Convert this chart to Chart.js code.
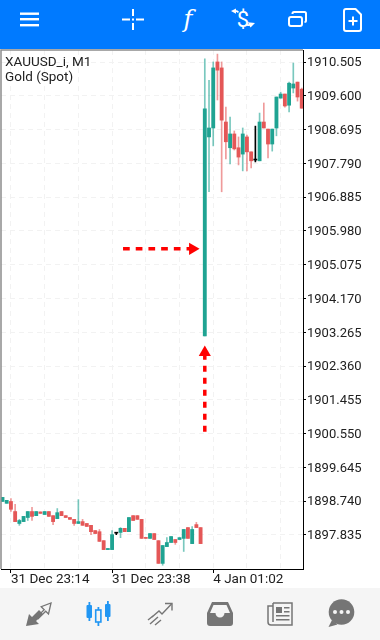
<!DOCTYPE html>
<html>
<head>
<meta charset="utf-8">
<title>XAUUSD_i, M1</title>
<script src="https://cdn.jsdelivr.net/npm/chart.js@4/dist/chart.umd.min.js"></script>
<style>
  html, body { margin: 0; padding: 0; background: #fff; width: 380px; height: 640px; overflow: hidden; }
  #chart { position: absolute; left: 0; top: 0; }
  .bar { position: absolute; left: 0; display: block; }
  #top { top: 0; }
  #bottom { top: 588px; }
</style>
</head>
<body>
<canvas id="chart" width="380" height="590"></canvas>

<svg id="top" class="bar" width="380" height="49" viewBox="0 0 380 49">
  <rect width="380" height="49" fill="#007aff"/>
  <g fill="#fff">
    <rect x="20" y="12.5" width="19" height="2.4"/>
    <rect x="20" y="18" width="19" height="2.4"/>
    <rect x="20" y="24" width="19" height="2.4"/>
    <rect x="122" y="18.5" width="8" height="2"/>
    <rect x="136" y="18.5" width="8" height="2"/>
    <rect x="132" y="9" width="2" height="7"/>
    <rect x="132" y="23" width="2" height="7"/>
    <rect x="132" y="18.5" width="2" height="2"/>
    <text x="188" y="27" font-family="DejaVu Serif" font-style="italic" font-size="24" text-anchor="middle">f</text>
    <text x="243" y="27" font-family="Roboto" font-size="22" text-anchor="middle">$</text>
    <path d="M231 11l5-2.500v1.800c1.500 0 2.500 .5 3 1.700l-1.500 1c-.4-.7-.8-.9-1.500-.9v1.700z"/>
    <path d="M255 23l-4.500 4.500-1-1.800c-1.500 .5-2.800 .2-3.700-.7l1.200-1.300c.6 .5 1.200 .6 1.800 .3l-1-1.700z"/>
  </g>
  <g fill="none" stroke="#fff" stroke-width="2">
    <rect x="289" y="17" width="13" height="9" rx="2"/>
    <path d="M292.500 14v-.500a1.500 1.500 0 0 1 1.500-1.500h10.500a1.500 1.500 0 0 1 1.500 1.500v7a1.500 1.500 0 0 1-1.500 1.500"/>
    <path d="M346 9h9.500l5.500 5.500v14.500a2 2 0 0 1-2 2h-13a2 2 0 0 1-2-2v-18a2 2 0 0 1 2-2z" stroke-linejoin="round"/>
    <path d="M353 16.500v9M348.500 21h9"/>
  </g>
</svg>

<svg id="bottom" class="bar" width="380" height="52" viewBox="0 588 380 52">
  <rect x="0" y="588" width="380" height="52" fill="#f5f5f5"/>
  <!-- trade -->
  <path d="M26 626l3-12 3 3 7-7 4 4-7 7 3 3z" fill="#757575"/>
  <path d="M51 603l-2.500 11-2.800-2.800-7.700 7.700-1.500-1.500 7.700-7.700-3-3z" fill="none" stroke="#757575" stroke-width="1.300"/>
  <!-- candles -->
  <g fill="#2196f3">
    <rect x="88.500" y="602" width="1.800" height="19"/>
    <rect x="86.500" y="605" width="5.500" height="13" rx="1"/>
    <rect x="107" y="601" width="1.800" height="20"/>
    <rect x="105" y="604" width="5.500" height="13" rx="1"/>
    <rect x="97.500" y="607" width="1.800" height="19"/>
  </g>
  <rect x="95.700" y="610" width="5.200" height="12" fill="#f5f5f5" stroke="#2196f3" stroke-width="1.600"/>
  <!-- trend -->
  <g fill="none" stroke="#757575" stroke-width="1.400">
    <path d="M152 617l7-6 3 3 9.500-10"/>
    <path d="M165 603.500h7v7"/>
    <path d="M148 620l5-4M150 624l8-7M155 625l6-5"/>
  </g>
  <!-- inbox -->
  <path d="M212 602h16l5 11v10a3 3 0 0 1-3 3h-20a3 3 0 0 1-3-3v-10z" fill="#757575"/>
  <path d="M213.500 605h13l3.500 8h-5.500a4.500 4.500 0 0 1-9 0h-5.500z" fill="#f5f5f5"/>
  <!-- news -->
  <g fill="none" stroke="#757575" stroke-width="1.500">
    <path d="M273 603h19v22h-21a3 3 0 0 1-3-3v-16h5"/>
    <path d="M273 603v19"/>
  </g>
  <g fill="#757575">
    <rect x="276" y="607" width="6" height="6"/>
    <rect x="284" y="607" width="5.500" height="1.500"/>
    <rect x="284" y="611" width="5.500" height="1.500"/>
    <rect x="276" y="615" width="13.500" height="1.500"/>
    <rect x="276" y="619" width="13.500" height="1.500"/>
  </g>
  <!-- chat -->
  <circle cx="341.500" cy="612" r="12.800" fill="#757575"/>
  <path d="M332 620l-3.500 7 9-2.500z" fill="#757575"/>
  <circle cx="335" cy="612" r="2" fill="#f5f5f5"/>
  <circle cx="341.500" cy="612" r="2" fill="#f5f5f5"/>
  <circle cx="348" cy="612" r="2" fill="#f5f5f5"/>
</svg>

<script>
  // Candles, one minute each
  const opens = [
    1898.73, 1898.68, 1898.73, 1898.46, 1898.14, 1898.19, 1898.30, 1898.46, 1898.35, 1898.45,
    1898.38, 1898.46, 1898.35, 1898.27, 1898.46, 1898.35, 1898.30, 1898.25, 1898.14, 1898.19,
    1898.14, 1898.09, 1897.95, 1897.92, 1897.68, 1897.44, 1897.44, 1897.88, 1897.90, 1898.01,
    1897.92, 1898.35, 1898.35, 1898.25, 1897.76, 1897.74, 1897.87, 1897.68, 1897.07, 1897.52,
    1897.63, 1897.71, 1897.71, 1897.74, 1898.03, 1897.60, 1898.11, 1898.03, 1903.17, 1908.50,
    1908.74, 1910.51, 1910.35, 1908.90, 1908.21, 1908.58, 1908.21, 1908.04, 1908.50, 1908.10,
    1907.88, 1907.86, 1908.90, 1908.71, 1908.31, 1908.74, 1909.54, 1909.65, 1909.35, 1909.81,
    1909.97, 1909.78
  ];
  const closes = [
    1898.84, 1898.76, 1898.52, 1898.19, 1898.22, 1898.33, 1898.46, 1898.33, 1898.46, 1898.41,
    1898.46, 1898.33, 1898.19, 1898.43, 1898.35, 1898.30, 1898.25, 1898.14, 1898.19, 1898.09,
    1898.06, 1897.92, 1897.87, 1897.66, 1897.44, 1897.47, 1897.84, 1897.88, 1898.01, 1897.92,
    1898.30, 1898.22, 1898.25, 1897.74, 1897.74, 1897.87, 1897.71, 1897.07, 1897.55, 1897.63,
    1897.79, 1897.63, 1897.76, 1897.98, 1897.74, 1897.98, 1898.03, 1897.60, 1909.25, 1908.74,
    1910.35, 1910.29, 1908.95, 1908.37, 1908.58, 1908.18, 1907.96, 1908.58, 1908.10, 1907.86,
    1907.88, 1908.90, 1908.74, 1908.31, 1908.71, 1909.57, 1909.65, 1909.33, 1909.94, 1909.92,
    1909.57, 1909.27
  ];
  const highs = [
    1898.84, 1898.76, 1898.81, 1898.65, 1898.25, 1898.33, 1898.46, 1898.57, 1898.46, 1898.45,
    1898.46, 1898.46, 1898.35, 1898.54, 1898.46, 1898.35, 1898.30, 1898.25, 1898.78, 1898.25,
    1898.14, 1898.09, 1897.95, 1897.98, 1897.68, 1897.47, 1897.95, 1897.90, 1898.03, 1898.01,
    1898.30, 1898.35, 1898.35, 1898.25, 1897.76, 1897.87, 1897.87, 1897.68, 1897.55, 1897.76,
    1897.79, 1897.71, 1897.76, 1897.98, 1898.03, 1898.06, 1898.17, 1898.03, 1910.59, 1910.02,
    1910.51, 1910.72, 1910.51, 1909.30, 1909.03, 1908.66, 1908.50, 1908.74, 1908.55, 1908.10,
    1908.79, 1909.14, 1909.41, 1908.71, 1908.71, 1909.57, 1909.70, 1909.65, 1909.97, 1910.48,
    1909.97, 1909.81
  ];
  const lows = [
    1898.73, 1898.68, 1898.46, 1898.19, 1898.09, 1898.19, 1898.22, 1898.22, 1898.35, 1898.41,
    1898.38, 1898.33, 1898.11, 1898.27, 1898.35, 1898.30, 1898.25, 1898.09, 1898.14, 1898.09,
    1898.06, 1897.84, 1897.87, 1897.66, 1897.44, 1897.44, 1897.44, 1897.84, 1897.76, 1897.92,
    1897.92, 1898.22, 1898.25, 1897.74, 1897.74, 1897.74, 1897.71, 1897.07, 1897.02, 1897.52,
    1897.63, 1897.58, 1897.71, 1897.39, 1897.74, 1897.60, 1898.03, 1897.60, 1903.17, 1907.03,
    1908.26, 1909.49, 1907.03, 1907.91, 1907.78, 1908.15, 1907.75, 1907.59, 1907.59, 1907.67,
    1907.83, 1907.86, 1908.74, 1907.94, 1908.12, 1908.53, 1909.54, 1909.30, 1909.17, 1909.68,
    1909.46, 1909.27
  ];

  // Axis ticks
  const priceTicks = [
    1910.505, 1909.600, 1908.695, 1907.790, 1906.885, 1905.980, 1905.075, 1904.170,
    1903.265, 1902.360, 1901.455, 1900.550, 1899.645, 1898.740, 1897.835
  ];
  const timeGrid = [2, 10, 18, 26, 34, 42, 50, 58, 66];
  const timeTickIndex = [2, 26, 50];
  const timeTickLabels = ['31 Dec 23:14', '31 Dec 23:38', '4 Jan 01:02'];

  // Red annotation arrows
  const arrowAcrossX = [28.6, 45.1];
  const arrowAcrossY = [1905.50, 1905.50];
  const arrowUpX = [48, 48];
  const arrowUpY = [1900.60, 1902.72];

  const chartLabels = ['XAUUSD_i, M1', 'Gold (Spot)'];

  const colors = {
    up: '#1fa392',
    down: '#e45757',
    upWick: 'rgba(31, 163, 146, 0.6)',
    downWick: 'rgba(228, 87, 87, 0.6)',
    doji: '#000000',
    arrow: '#ff0000',
    grid: '#f2f2f2',
    frame: '#8c8c8c',
    text: '#212121'
  };

  const candleIndex = opens.map((_, i) => i);

  function candleColor(i, up, down) {
    if (opens[i] === closes[i]) return colors.doji;
    return closes[i] > opens[i] ? up : down;
  }

  const toPoints = (xs, ys) => xs.map((x, i) => ({ x: x, y: ys[i] }));

  // Gray frame on the open sides and the symbol text in the corner
  const framePlugin = {
    id: 'frame',
    afterDraw(chart) {
      const { ctx, chartArea } = chart;
      ctx.save();
      ctx.strokeStyle = colors.frame;
      ctx.lineWidth = 1.5;
      ctx.beginPath();
      ctx.moveTo(chartArea.left, chartArea.bottom);
      ctx.lineTo(chartArea.left, chartArea.top);
      ctx.lineTo(chartArea.right, chartArea.top);
      ctx.stroke();
      ctx.fillStyle = colors.text;
      ctx.font = '13.5px Roboto';
      ctx.textBaseline = 'middle';
      ctx.fillText(chartLabels[0], 5, 63);
      ctx.fillText(chartLabels[1], 5, 78);
      ctx.restore();
    }
  };

  new Chart(document.getElementById('chart'), {
    type: 'bar',
    data: {
      datasets: [
        {
          label: 'Arrow across',
          type: 'line',
          data: toPoints(arrowAcrossX, arrowAcrossY),
          borderColor: colors.arrow,
          backgroundColor: colors.arrow,
          borderWidth: 3.5,
          borderDash: [6.7, 6],
          pointStyle: 'triangle',
          pointRotation: 90,
          pointRadius: [0, 7],
          pointBorderWidth: 0,
          order: 0
        },
        {
          label: 'Arrow up',
          type: 'line',
          data: toPoints(arrowUpX, arrowUpY),
          borderColor: colors.arrow,
          backgroundColor: colors.arrow,
          borderWidth: 3.5,
          borderDash: [6, 6],
          pointStyle: 'triangle',
          pointRadius: [0, 7],
          pointBorderWidth: 0,
          order: 0
        },
        {
          label: 'Body',
          data: toPoints(candleIndex, opens.map((o, i) => [o, closes[i]])),
          backgroundColor: candleIndex.map(i => candleColor(i, colors.up, colors.down)),
          barThickness: 3.2,
          minBarLength: 1,
          grouped: false,
          order: 1
        },
        {
          label: 'Wick',
          data: toPoints(candleIndex, lows.map((l, i) => [l, highs[i]])),
          backgroundColor: candleIndex.map(i => candleColor(i, colors.upWick, colors.downWick)),
          barThickness: 1,
          grouped: false,
          order: 2
        }
      ]
    },
    options: {
      responsive: false,
      animation: false,
      layout: { autoPadding: false, padding: { left: 1, top: 50, right: 0, bottom: 0 } },
      plugins: { legend: { display: false }, tooltip: { enabled: false }, title: { display: false } },
      scales: {
        x: {
          type: 'linear',
          offset: false,
          min: -0.356,
          max: 71.3,
          afterBuildTicks(scale) {
            scale.ticks = timeGrid.map(v => ({ value: v }));
          },
          afterFit(scale) {
            scale.height = 21;
            scale.paddingLeft = 0;
            scale.paddingRight = 0;
          },
          border: { color: '#000000', width: 1, dash: [5, 4] },
          grid: {
            offset: false,
            color: colors.grid,
            tickLength: 4,
            tickColor: ctx => ctx.tick && timeTickIndex.includes(ctx.tick.value) ? '#000000' : 'transparent'
          },
          ticks: {
            autoSkip: false,
            maxRotation: 0,
            minRotation: 0,
            align: 'start',
            padding: -1,
            color: colors.text,
            font: { family: 'Roboto', size: 13.5 },
            callback(value) {
              const at = timeTickIndex.indexOf(value);
              return at >= 0 ? timeTickLabels[at] : '';
            }
          }
        },
        y: {
          position: 'right',
          min: 1896.92,
          max: 1910.83,
          afterBuildTicks(scale) {
            scale.ticks = priceTicks.map(v => ({ value: v }));
          },
          afterFit(scale) {
            scale.width = 77;
          },
          border: { color: '#000000', width: 1, dash: [5, 4] },
          grid: { color: colors.grid, tickLength: 3, tickColor: '#000000' },
          ticks: {
            autoSkip: false,
            padding: 1,
            labelOffset: 1,
            color: colors.text,
            font: { family: 'Roboto', size: 13 },
            callback: value => value.toFixed(3)
          }
        }
      }
    },
    plugins: [framePlugin]
  });
</script>
</body>
</html>
